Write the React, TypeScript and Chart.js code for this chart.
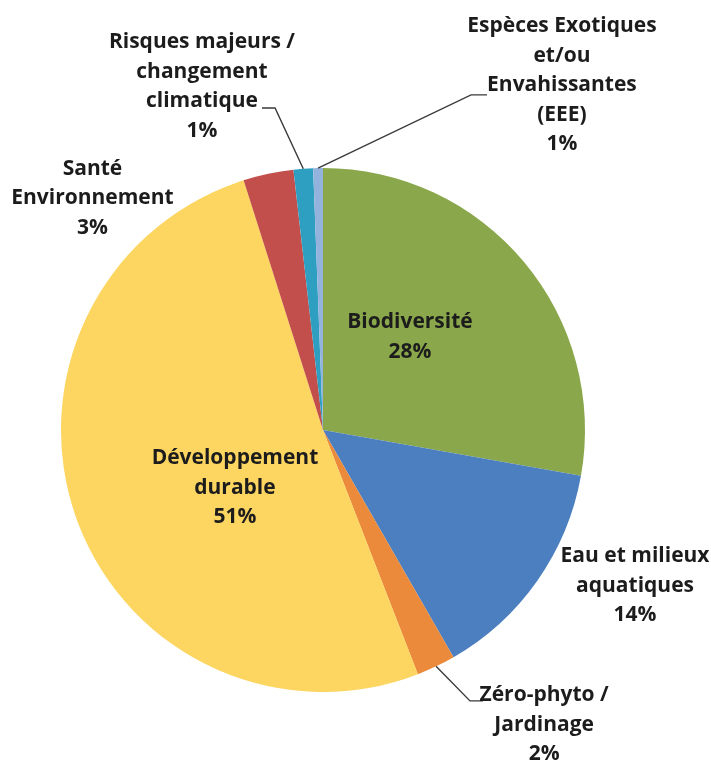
import React, { useEffect, useRef } from "react";
import { Chart, registerables } from "chart.js";

Chart.register(...registerables);

const categories = [
  "Biodiversité",
  "Eau et milieux aquatiques",
  "Zéro-phyto / Jardinage",
  "Développement durable",
  "Santé Environnement",
  "Risques majeurs / changement climatique",
  "Espèces Exotiques et/ou Envahissantes (EEE)",
];

const labelLines = [
  ["Biodiversité"],
  ["Eau et milieux", "aquatiques"],
  ["Zéro-phyto /", "Jardinage"],
  ["Développement", "durable"],
  ["Santé", "Environnement"],
  ["Risques majeurs /", "changement", "climatique"],
  ["Espèces Exotiques", "et/ou", "Envahissantes", "(EEE)"],
];

const values = [27.8, 13.9, 2.4, 51.0, 3.1, 1.2, 0.6];

const colors = ["#8aa84b", "#4c7fbf", "#ea8a3a", "#fdd561", "#c24f4c", "#2e9fc0", "#93b3dc"];

// label block centres relative to pie centre, in units of the radius
const placements = [
  { x: 0.332, y: -0.355 },
  { x: 1.191, y: 0.595 },
  { x: 0.844, y: 1.126 },
  { x: -0.336, y: 0.221 },
  { x: -0.88, y: -0.885 },
  { x: -0.462, y: -1.311 },
  { x: 0.912, y: -1.315 },
];

// leader lines: elbow and end points relative to centre, in radius units
const leaders: Record<number, { ex: number; ey: number; tx: number; ty: number }> = {
  2: { ex: 0.561, ey: 1.034, tx: 0.611, ty: 1.034 },
  5: { ex: -0.183, ey: -1.229, tx: -0.233, ty: -1.229 },
  6: { ex: 0.565, ey: -1.279, tx: 0.626, ty: -1.279 },
};

const FONT = "bold 21px 'Open Sans'";
const LINE_H = 29.5;

const labelPlugin = {
  id: "pieLabels",
  afterDraw(chart: any) {
    const meta = chart.getDatasetMeta(0);
    const ctx = chart.ctx as CanvasRenderingContext2D;
    const data = chart.data.datasets[0].data as number[];
    const total = data.reduce((a, b) => a + b, 0);
    ctx.save();
    meta.data.forEach((arc: any, i: number) => {
      const { x, y, startAngle, endAngle, outerRadius } = arc.getProps(
        ["x", "y", "startAngle", "endAngle", "outerRadius"],
        true
      );
      const R = outerRadius;
      const ld = leaders[i];
      if (ld) {
        const mid = (startAngle + endAngle) / 2;
        ctx.beginPath();
        ctx.strokeStyle = "#3a3a3a";
        ctx.lineWidth = 1.4;
        ctx.moveTo(x + R * Math.cos(mid), y + R * Math.sin(mid));
        ctx.lineTo(x + ld.ex * R, y + ld.ey * R);
        ctx.lineTo(x + ld.tx * R, y + ld.ty * R);
        ctx.stroke();
      }
      const pct = Math.round((data[i] / total) * 100) + "%";
      const lines = [...labelLines[i], pct];
      const cx = x + placements[i].x * R;
      const cy = y + placements[i].y * R;
      ctx.font = FONT;
      ctx.fillStyle = "#1c1c1c";
      ctx.textAlign = "center";
      ctx.textBaseline = "middle";
      const h = (lines.length - 1) * LINE_H;
      lines.forEach((t, k) => {
        ctx.fillText(t, cx, cy - h / 2 + k * LINE_H);
      });
    });
    ctx.restore();
  },
};

export default function App() {
  const ref = useRef<HTMLCanvasElement | null>(null);
  useEffect(() => {
    if (!ref.current) return;
    const chart = new Chart(ref.current, {
      type: "pie",
      data: {
        labels: categories,
        datasets: [
          {
            data: values,
            backgroundColor: colors,
            borderWidth: 0,
            hoverOffset: 0,
          },
        ],
      },
      options: {
        animation: false,
        responsive: true,
        maintainAspectRatio: false,
        layout: { padding: { left: 61, right: 126, top: 168, bottom: 70 } },
        plugins: {
          legend: { display: false },
          tooltip: { enabled: false },
        },
      },
      plugins: [labelPlugin],
    });
    return () => chart.destroy();
  }, []);
  return (
    <div
      style={{
        position: "fixed",
        left: 0,
        top: 0,
        width: 711,
        height: 762,
        background: "#ffffff",
      }}
    >
      <canvas ref={ref} />
    </div>
  );
}
